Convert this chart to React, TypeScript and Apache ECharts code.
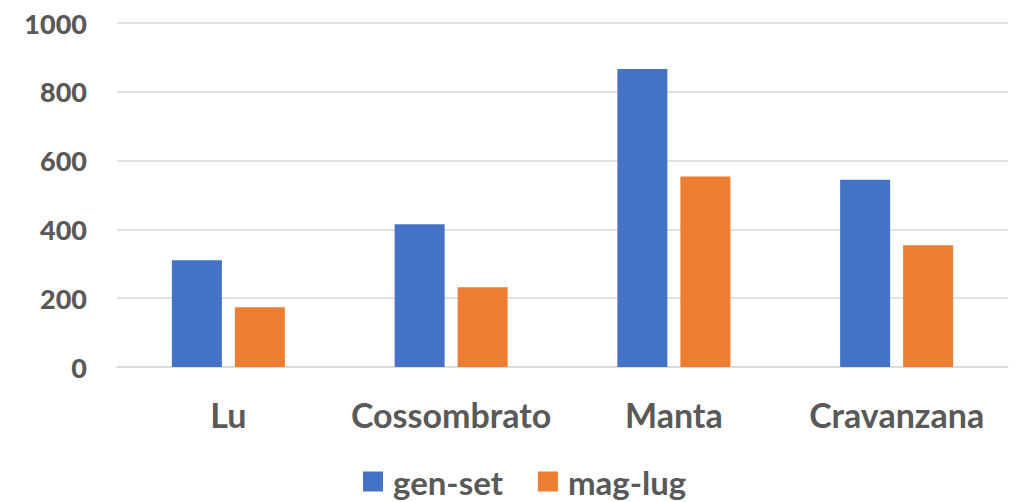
import React, { useEffect, useRef } from "react";
import * as echarts from "echarts";

const categories = ["Lu", "Cossombrato", "Manta", "Cravanzana"];
const genSet = [310, 415, 866, 544];
const magLug = [174, 232, 554, 354];
const seriesNames = ["gen-set", "mag-lug"];
const yMin = 0;
const yMax = 1000;
const yInterval = 200;

export default function App() {
  const ref = useRef<HTMLDivElement>(null);
  useEffect(() => {
    if (!ref.current) return;
    const chart = echarts.init(ref.current, undefined, { renderer: "svg" });
    const font = "Lato, 'Open Sans', sans-serif";
    chart.setOption({
      animation: false,
      backgroundColor: "#ffffff",
      grid: { left: 117, right: 12, top: 23, bottom: 135, containLabel: false },
      legend: {
        data: seriesNames,
        left: 363,
        top: 465,
        padding: 0,
        itemWidth: 20,
        itemHeight: 20,
        itemGap: 35,
        icon: "rect",
        textStyle: { fontFamily: font, fontWeight: "bold", fontSize: 33, lineHeight: 30, color: "#595959", padding: [0, 0, 0, 5] },
      },
      xAxis: {
        type: "category",
        data: categories,
        axisTick: { show: false },
        axisLine: { show: true, lineStyle: { color: "#d9d9d9", width: 1.5 } },
        axisLabel: { interval: 0, fontFamily: font, fontWeight: "bold", fontSize: 34, color: "#595959", margin: 30 },
      },
      yAxis: {
        type: "value",
        min: yMin,
        max: yMax,
        interval: yInterval,
        axisLine: { show: false },
        axisTick: { show: false },
        splitLine: { lineStyle: { color: "#d9d9d9", width: 1.5 } },
        axisLabel: {
          fontFamily: font,
          fontWeight: 900,
          fontSize: 27,
          color: "#595959",
          margin: 30,
          formatter: (v: number) => String(v),
        },
      },
      series: [
        {
          name: seriesNames[0],
          type: "bar",
          data: genSet,
          barWidth: 50,
          barGap: "26%",
          itemStyle: { color: "#4472C4" },
        },
        {
          name: seriesNames[1],
          type: "bar",
          data: magLug,
          barWidth: 50,
          barGap: "26%",
          itemStyle: { color: "#ED7D31" },
        },
      ],
    });
    return () => chart.dispose();
  }, []);
  return <div ref={ref} style={{ width: 1020, height: 502, position: "absolute", left: 0, top: 0 }} />;
}
